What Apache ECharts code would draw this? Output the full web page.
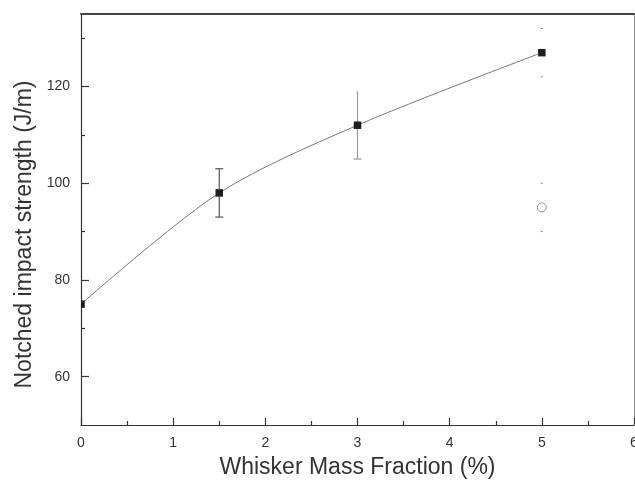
<!DOCTYPE html>
<html>
<head>
<meta charset="utf-8">
<script src="https://cdn.jsdelivr.net/npm/echarts@6/dist/echarts.min.js"></script>
<style>html,body{margin:0;padding:0;background:#fff}#c{width:635px;height:485px}</style>
</head>
<body>
<div id="c"></div>
<script>
const xValues = [0, 1.5, 3, 5];
const strength = [75, 98, 112, 127];
const errLow = [null, 93, 105, 122];
const errHigh = [null, 103, 119, 132];
const openX = [5];
const openY = [95];
const openLow = [90];
const openHigh = [100];
const xTicks = [0, 1, 2, 3, 4, 5, 6];
const yTicks = [60, 80, 100, 120];
const yMinorTicks = [70, 90, 110, 130];

const chart = echarts.init(document.getElementById('c'));
const font = 'Liberation Sans, Arial, sans-serif';

const mainPts = xValues.map((x, i) => [x, strength[i]]);
const errData = xValues.map((x, i) => [x, errLow[i], errHigh[i], i]).filter(d => d[1] != null);
const openErr = openX.map((x, i) => [x, openLow[i], openHigh[i], 99]);

function errRender(params, api) {
  const x = api.value(0), lo = api.value(1), hi = api.value(2), idx = api.value(3);
  const pl = api.coord([x, lo]), ph = api.coord([x, hi]);
  const children = [];
  const capsOnly = (x === 5);
  const col = idx === 2 ? '#9a9a9a' : '#555';
  if (!capsOnly) {
    children.push({type: 'line', shape: {x1: pl[0], y1: pl[1], x2: ph[0], y2: ph[1]}, style: {stroke: col, lineWidth: 1.2}});
    const w = 4;
    children.push({type: 'line', shape: {x1: pl[0] - w, y1: pl[1], x2: pl[0] + w, y2: pl[1]}, style: {stroke: col, lineWidth: 1.2}});
    if (idx !== 2) children.push({type: 'line', shape: {x1: ph[0] - w, y1: ph[1], x2: ph[0] + w, y2: ph[1]}, style: {stroke: col, lineWidth: 1.2}});
  } else {
    const w = 1;
    children.push({type: 'line', shape: {x1: pl[0] - w, y1: pl[1], x2: pl[0] + w, y2: pl[1]}, style: {stroke: '#888', lineWidth: 1}});
    children.push({type: 'line', shape: {x1: ph[0] - w, y1: ph[1], x2: ph[0] + w, y2: ph[1]}, style: {stroke: '#888', lineWidth: 1}});
  }
  return {type: 'group', children};
}

function squareRender(params, api) {
  const p = api.coord([api.value(0), api.value(1)]);
  const s = 7.5;
  return {type: 'rect', shape: {x: p[0] - s / 2, y: p[1] - s / 2, width: s, height: s}, style: {fill: '#1e1e1e'}};
}

chart.setOption({
  animation: false,
  backgroundColor: '#fff',
  grid: {left: 81, right: 1, top: 14, bottom: 60, outerBoundsMode: 'none', containLabel: false},
  xAxis: [{
    type: 'value', min: 0, max: 6, interval: 1,
    name: 'Whisker Mass Fraction (%)', nameLocation: 'middle', nameGap: 31,
    nameTextStyle: {fontFamily: font, fontSize: 23, color: '#333'},
    axisLine: {lineStyle: {color: '#333', width: 1.2}},
    axisTick: {inside: true, length: 7, lineStyle: {color: '#333', width: 1.2}},
    minorTick: {show: true, splitNumber: 2, length: 4, lineStyle: {color: '#333', width: 1.2}},
    axisLabel: {fontFamily: font, fontSize: 14, color: '#333', margin: 11,
      formatter: v => xTicks.includes(v) ? String(v) : ''},
    splitLine: {show: false}
  }, {
    type: 'value', min: 0, max: 6, position: 'top',
    axisLine: {show: true, lineStyle: {color: '#444', width: 2}},
    axisTick: {show: false}, axisLabel: {show: false}, splitLine: {show: false}
  }],
  yAxis: [{
    type: 'value', min: 50, max: 135, interval: 10,
    name: 'Notched impact strength (J/m)', nameLocation: 'middle', nameGap: 43,
    nameTextStyle: {fontFamily: font, fontSize: 23, color: '#333', padding: [0, 30, 0, 0]},
    axisLine: {show: true, lineStyle: {color: '#333', width: 1.2}},
    axisTick: {inside: true, length: 8, customValues: yTicks, lineStyle: {color: '#333', width: 1.2}},
    axisLabel: {fontFamily: font, fontSize: 14, color: '#333', margin: 11, customValues: yTicks},
    splitLine: {show: false}
  }, {
    type: 'value', min: 50, max: 135, interval: 10, position: 'left', offset: 0,
    axisLine: {show: false},
    axisTick: {show: true, inside: true, length: 4, customValues: yMinorTicks, lineStyle: {color: '#333', width: 1.2}},
    axisLabel: {show: false}, splitLine: {show: false}
  }, {
    type: 'value', min: 50, max: 135, position: 'right',
    axisLine: {show: true, lineStyle: {color: '#888', width: 1}},
    axisTick: {show: false}, axisLabel: {show: false}, splitLine: {show: false}
  }],
  series: [
    {type: 'line', data: mainPts, smooth: 0.3, showSymbol: false,
      lineStyle: {color: '#777', width: 1}, z: 2},
    {type: 'custom', data: errData, renderItem: errRender, z: 3,
      encode: {x: 0, y: [1, 2]}},
    {type: 'custom', data: openErr, renderItem: errRender, z: 3,
      encode: {x: 0, y: [1, 2]}},
    {type: 'custom', data: mainPts, renderItem: squareRender, clip: true, z: 4,
      encode: {x: 0, y: 1}},
    {type: 'scatter', data: openX.map((x, i) => [x, openY[i]]), symbol: 'circle', symbolSize: 9,
      itemStyle: {color: '#fff', borderColor: '#777', borderWidth: 1}, z: 4}
  ]
});
</script>
</body>
</html>
